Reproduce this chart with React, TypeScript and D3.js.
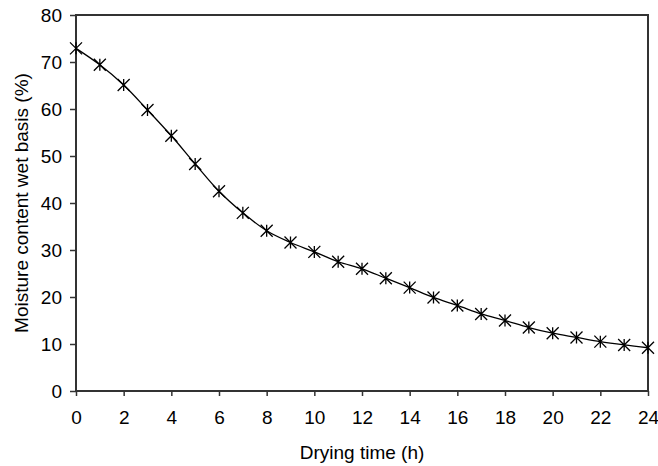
import React, { useEffect, useRef } from "react";
import * as d3 from "d3";

// Drying curve data
const hours = [0, 1, 2, 3, 4, 5, 6, 7, 8, 9, 10, 11, 12, 13, 14, 15, 16, 17, 18, 19, 20, 21, 22, 23, 24];
const moisture = [72.9, 69.4, 65.1, 59.8, 54.3, 48.3, 42.5, 37.9, 34.1, 31.6, 29.6, 27.5, 26.0, 24.0, 22.0, 19.9, 18.2, 16.4, 15.0, 13.5, 12.3, 11.4, 10.5, 9.8, 9.2];
const xTicks = [0, 2, 4, 6, 8, 10, 12, 14, 16, 18, 20, 22, 24];
const yTicks = [0, 10, 20, 30, 40, 50, 60, 70, 80];

const W = 658, H = 466;
const margin = { top: 15, right: 10, bottom: 75, left: 76 };
const font = "Arial, 'Liberation Sans', sans-serif";

export default function App() {
  const ref = useRef<SVGSVGElement>(null);

  useEffect(() => {
    const svg = d3.select(ref.current);
    svg.selectAll("*").remove();
    const innerW = W - margin.left - margin.right;
    const innerH = H - margin.top - margin.bottom;

    const x = d3.scaleLinear().domain([0, 24]).range([0, innerW]);
    const y = d3.scaleLinear().domain([0, 80]).range([innerH, 0]);

    const g = svg.append("g").attr("transform", `translate(${margin.left},${margin.top})`);

    // frame
    g.append("rect")
      .attr("x", 0).attr("y", 0)
      .attr("width", innerW).attr("height", innerH)
      .attr("fill", "none").attr("stroke", "#333").attr("stroke-width", 2);

    // x axis
    const xa = g.append("g")
      .attr("transform", `translate(0,${innerH})`)
      .call(d3.axisBottom(x).tickValues(xTicks).tickSize(5).tickPadding(15));
    xa.select(".domain").remove();
    xa.selectAll("line").attr("stroke", "#333").attr("stroke-width", 1.5);
    xa.selectAll("text").attr("font-size", 19).attr("font-family", font).attr("fill", "#000");

    // y axis
    const ya = g.append("g")
      .call(d3.axisLeft(y).tickValues(yTicks).tickSize(6).tickPadding(8));
    ya.select(".domain").remove();
    ya.selectAll("line").attr("stroke", "#333").attr("stroke-width", 1.5);
    ya.selectAll("text").attr("font-size", 19).attr("font-family", font).attr("fill", "#000");

    const data = hours.map((h, i) => ({ h, m: moisture[i] }));

    // line
    const line = d3.line<{ h: number; m: number }>()
      .x((d) => x(d.h))
      .y((d) => y(d.m))
      .curve(d3.curveCatmullRom);
    g.append("path")
      .datum(data)
      .attr("d", line)
      .attr("fill", "none")
      .attr("stroke", "#000")
      .attr("stroke-width", 1.3);

    // asterisk markers
    const s = 6;
    const mk = g.selectAll(".mk").data(data).join("g")
      .attr("class", "mk")
      .attr("transform", (d) => `translate(${x(d.h)},${y(d.m)})`);
    mk.append("path")
      .attr("d", `M${-s},${-s}L${s},${s}M${-s},${s}L${s},${-s}M0,${-s}L0,${s}`)
      .attr("stroke", "#000")
      .attr("stroke-width", 1.3)
      .attr("fill", "none");

    // axis titles
    svg.append("text")
      .attr("x", margin.left + innerW / 2)
      .attr("y", 459)
      .attr("text-anchor", "middle")
      .attr("font-size", 19)
      .attr("font-family", font)
      .text("Drying time (h)");

    svg.append("text")
      .attr("transform", `translate(28,${margin.top + innerH / 2}) rotate(-90)`)
      .attr("text-anchor", "middle")
      .attr("font-size", 19)
      .attr("font-family", font)
      .text("Moisture content wet basis (%)");
  }, []);

  return (
    <svg ref={ref} width={W} height={H}
      style={{ position: "absolute", left: 0, top: 0, background: "#fff" }} />
  );
}
